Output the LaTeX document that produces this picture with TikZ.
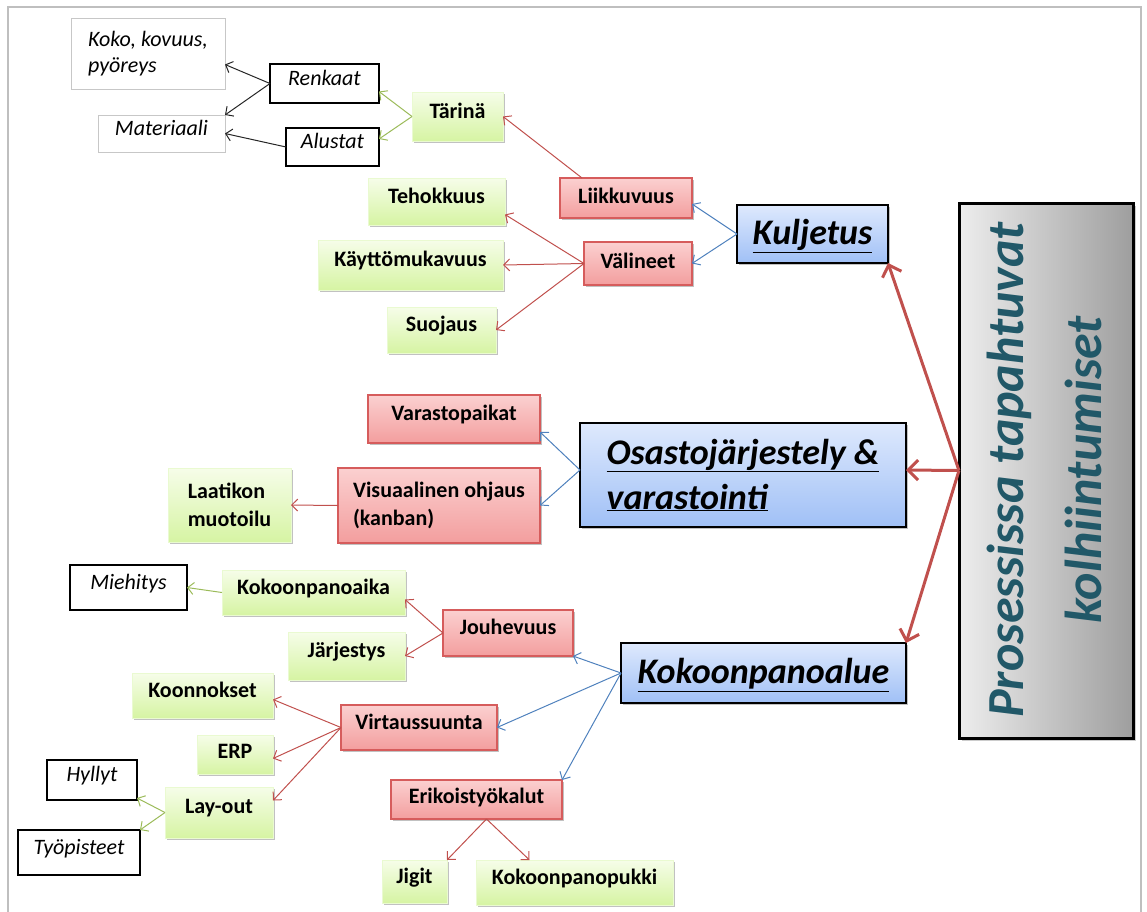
\documentclass[tikz,border=0pt]{standalone}
\usepackage{fontspec}
\setmainfont{Carlito}
\usetikzlibrary{arrows.meta,shadows}
\definecolor{redln}{RGB}{192,80,77}
\definecolor{blueln}{RGB}{79,129,189}
\definecolor{greenln}{RGB}{155,187,89}
\definecolor{gtop}{RGB}{246,253,233}
\definecolor{gbot}{RGB}{214,244,163}
\definecolor{rtop}{RGB}{251,208,208}
\definecolor{rbot}{RGB}{243,158,158}
\definecolor{rdraw}{RGB}{214,92,92}
\definecolor{btop}{RGB}{222,233,253}
\definecolor{bbot}{RGB}{160,192,246}
\definecolor{teal}{RGB}{33,88,104}
\newcommand\bx[7][one]{\node[#2, anchor=north west, minimum width={(#5-#3)*1pt}, minimum height={(#6-#4)*1pt}, #1] (#7) at (#3,#4)}
\tikzset{
  base/.style={inner sep=0pt, outer sep=0pt, rectangle},
  one/.style={text depth=12pt},
  shad/.style={drop shadow={shadow xshift=2pt, shadow yshift=-2pt, opacity=0.35, fill=black!70}},
  gbox/.style={base, shad, top color=gtop, bottom color=gbot, draw=gbot!50!white, line width=0.4pt,
    font=\bfseries\fontsize{22}{28}\selectfont},
  rbox/.style={base, shad, top color=rtop, bottom color=rbot, draw=rdraw, line width=1.2pt,
    font=\bfseries\fontsize{22}{28}\selectfont},
  bbox/.style={base, shad, top color=btop, bottom color=bbot, draw=black, line width=2.2pt,
    font=\bfseries\itshape\fontsize{36}{45}\selectfont},
  wbox/.style={base, fill=white, draw=black, line width=1.2pt, font=\itshape\fontsize{22}{26}\selectfont},
  lbox/.style={base, fill=white, draw=black!22, line width=0.8pt, font=\itshape\fontsize{22}{26}\selectfont},
  thin/.style={line width=1pt, -{Straight Barb[length=6pt,width=12pt]}},
  thk/.style={line width=3pt, draw=redln, -{Straight Barb[length=10pt,width=20pt]}},
  rl/.style={thin, draw=redln},
  bl/.style={thin, draw=blueln},
  gl/.style={thin, draw=greenln},
  kl/.style={thin, draw=black!85},
}
\begin{document}
\begin{tikzpicture}[x=1pt,y=-1pt]
\useasboundingbox (0,0) rectangle (1147,911);
\draw[black!25, line width=1.5pt] (8,915) -- (8,7) -- (1141,7) -- (1141,915);
% top branch
\bx[align=left]{lbox}{71}{18}{225}{89}{koko}{Koko, kovuus,\\pyöreys};
\bx{lbox}{98}{115}{225}{152}{mat}{Materiaali};
\bx{wbox}{270}{64}{379}{103}{renk}{Renkaat};
\bx{wbox}{286}{128}{379}{166}{alu}{Alustat};
\bx{gbox}{412}{92}{503}{141}{tar}{Tärinä};
\bx[text depth=5pt]{rbox}{560}{178}{692}{218}{liik}{Liikkuvuus};
\bx{gbox}{368}{178}{505}{225}{teh}{Tehokkuus};
\bx[text depth=5pt]{rbox}{584}{242}{692}{285}{val}{Välineet};
\bx{gbox}{318}{240}{503}{290}{kay}{Käyttömukavuus};
\bx{gbox}{387}{307}{496}{353}{suo}{Suojaus};
\bx[text depth=4pt]{bbox}{737}{205}{888}{263}{kul}{\underline{Kuljetus}};
% middle branch
\bx[align=left]{bbox}{580}{423}{906}{527}{osa}{\underline{Osastojärjestely \&}\\\underline{varastointi}};
\bx{rbox}{368}{395}{540}{443}{var}{Varastopaikat};
\bx[align=left]{rbox}{338}{468}{540}{543}{vis}{Visuaalinen ohjaus\\(kanban)};
\bx[align=left]{gbox}{168}{468}{291}{542}{laa}{Laatikon\\muotoilu};
% bottom branch
\bx{wbox}{70}{565}{187}{610}{mie}{Miehitys};
\bx{gbox}{222}{570}{405}{615}{kao}{Kokoonpanoaika};
\bx{rbox}{443}{610}{573}{656}{jou}{Jouhevuus};
\bx{gbox}{288}{632}{405}{680}{jar}{Järjestys};
\bx[text depth=4pt]{bbox}{621}{643}{906}{703}{kpa}{\underline{Kokoonpanoalue}};
\bx{gbox}{132}{673}{273}{718}{koo}{Koonnokset};
\bx{rbox}{341}{705}{497}{750}{vir}{Virtaussuunta};
\bx[text depth=6pt]{gbox}{197}{735}{273}{774}{erp}{ERP};
\bx{wbox}{47}{760}{137}{800}{hyl}{Hyllyt};
\bx{gbox}{165}{787}{273}{838}{lay}{Lay-out};
\bx{wbox}{18}{830}{140}{875}{tyo}{Työpisteet};
\bx[text depth=8pt]{rbox}{391}{780}{562}{819}{eri}{Erikoistyökalut};
\bx{gbox}{382}{860}{447}{903}{jig}{Jigit};
\bx{gbox}{476}{860}{673}{905}{kpp}{Kokoonpanopukki};
% main box
\node[base, draw=black, line width=3pt, left color=black!7, right color=black!38,
  drop shadow={shadow xshift=3pt, shadow yshift=-3pt, opacity=0.4},
  anchor=north west, minimum width=174pt, minimum height=535pt] (gray) at (959,203) {};
\node[rotate=90, align=center, text=teal, font=\bfseries\itshape\fontsize{52}{78}\selectfont]
  (gtxt) at (1044,470) {Prosessissa tapahtuvat\\kolhiintumiset};
% thick arrows
\draw[thk] (gray.west) -- (kul.south east);
\draw[thk] (gray.west) -- ([yshift=5pt]osa.east);
\draw[thk] (gray.west) -- (kpa.north east);
% Kuljetus
\draw[bl] (kul.west) -- ([yshift=-6pt]liik.east);
\draw[bl] (kul.west) -- (val.east);
\draw[rl] ([xshift=22pt]liik.north west) -- (tar.east);
\draw[gl] (tar.west) -- ([yshift=-8pt]renk.east);
\draw[gl] (tar.west) -- ([yshift=8pt]alu.east);
\draw[kl] (renk.west) -- ([yshift=-11pt]koko.east);
\draw[kl] (renk.west) -- (mat.north east);
\draw[kl] (alu.west) -- (mat.east);
\draw[rl] (val.west) -- ([yshift=-13pt]teh.east);
\draw[rl] (val.west) -- (kay.east);
\draw[rl] (val.west) -- (suo.east);
% Osasto
\draw[bl] ([yshift=5pt]osa.west) -- ([yshift=-13pt]var.east);
\draw[bl] ([yshift=5pt]osa.west) -- (vis.east);
\draw[rl] (vis.west) -- (laa.east);
% Kokoonpano
\draw[bl] (kpa.west) -- (jou.south east);
\draw[bl] (kpa.west) -- (vir.east);
\draw[bl] (kpa.west) -- (eri.north east);
\draw[gl] (kao.west) -- (mie.east);
\draw[rl] (jou.west) -- ([yshift=-7pt]kao.east);
\draw[rl] (jou.west) -- (jar.east);
\draw[rl] (vir.west) -- ([yshift=-4pt]koo.east);
\draw[rl] (vir.west) -- ([yshift=-4pt]erp.east);
\draw[rl] (vir.west) -- ([yshift=12pt]lay.east);
\draw[gl] (lay.west) -- ([yshift=-18pt]hyl.east);
\draw[gl] (lay.west) -- (tyo.north east);
\draw[rl] ([xshift=10pt]eri.south) -- (jig.north east);
\draw[rl] ([xshift=10pt]eri.south) -- ([xshift=-45pt]kpp.north);
\end{tikzpicture}
\end{document}
